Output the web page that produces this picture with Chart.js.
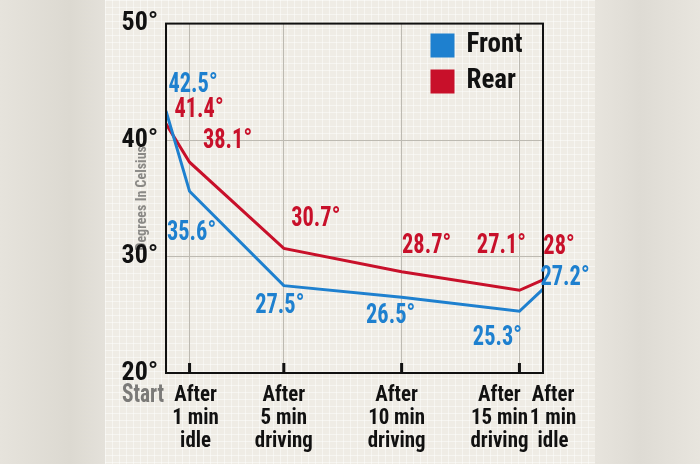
<!DOCTYPE html>
<html lang="en">
<head>
    <meta charset="UTF-8">
    <title>Tyre temperature</title>
    <style>
        body { margin: 0; width: 700px; height: 464px; overflow: hidden;
               background: linear-gradient(90deg, #e6e3dc 0, #dcd9d1 70px, #e4e1da 104px, #e7e4dd 596px, #dedbd4 640px, #e8e5de 700px); }
        .panel { position: absolute; left: 105px; top: 0; width: 490px; height: 464px;
                 background-color: #efece5;
                 background-image: linear-gradient(rgba(255,255,255,.45) 1px, transparent 1px),
                                   linear-gradient(90deg, rgba(255,255,255,.45) 1px, transparent 1px);
                 background-size: 7px 7px; }
        #chart { position: absolute; left: 0; top: 0; }
    </style>
</head>
<body>

<div class="panel"></div>
<canvas id="chart" width="700" height="464"></canvas>

<script src="https://cdn.jsdelivr.net/npm/chart.js@4.4.1/dist/chart.umd.min.js"></script>
<script>

    // minutes since start for each reading
    const minutes = [0, 1, 5, 10, 15, 16];
    const stageLabels = [
        ["Start"],
        ["After", "1 min", "idle"],
        ["After", "5 min", "driving"],
        ["After", "10 min", "driving"],
        ["After", "15 min", "driving"],
        ["After", "1 min", "idle"]
    ];
    const frontTemps = [42.5, 35.6, 27.5, 26.5, 25.3, 27.2];
    const rearTemps = [41.4, 38.1, 30.7, 28.7, 27.1, 28];
    const yTicks = [20, 30, 40, 50];

    const BLUE = "#1e80cf";
    const RED = "#c8102a";

    // where each value label sits relative to its point
    const labelShift = [
        [[27, -26], [2, 42], [-4, 20], [-11, 19], [-22, 27], [22, -11]],
        [[33, -14], [38, -21], [32, -29], [25, -26], [-18, -44], [16, -33]]
    ];
    // small nudges for the x captions
    const captionShift = [-23, 6, 0, -5, -20, 10];

    // find a narrow font that is really installed
    function pickFont() {
        const c = document.createElement("canvas").getContext("2d");
        const probe = "After 10 min driving 42.5";
        function w(f) { c.font = f; return c.measureText(probe).width; }
        const named = ["'Liberation Sans Narrow'", "'Roboto Condensed'", "'DejaVu Sans Condensed'", "'Open Sans Condensed'"];
        for (const fam of named) {
            if (w("bold 40px " + fam + ", monospace") !== w("bold 40px monospace")) {
                return {family: fam, weight: "bold", narrow: true};
            }
        }
        const stretchy = ["Roboto", "'Open Sans'", "'Noto Sans'", "Inter", "'DejaVu Sans'"];
        for (const fam of stretchy) {
            if (w("bold condensed 40px " + fam) < 0.92 * w("bold 40px " + fam)) {
                return {family: fam, weight: "bold condensed", narrow: true};
            }
        }
        return {family: "Roboto, sans-serif", weight: "bold", narrow: false};
    }
    const F = pickFont();

    // draw text pressed sideways a little, the print uses a very tight face
    function squeezedText(ctx, text, x, y, k) {
        ctx.save();
        ctx.translate(x, y);
        ctx.scale(k, 1);
        ctx.fillText(text, 0, 0);
        ctx.restore();
    }

    function toPoints(vals) {
        return vals.map(function (v, i) { return {x: minutes[i], y: v}; });
    }

    const decor = {
        id: "decor",
        afterLayout: function (chart) {
            // move the legend into the top right corner of the plot
            if (chart.legend) {
                chart.legend.left = 423;
                chart.legend.top = 23;
            }
        },
        afterDatasetsDraw: function (chart) {
            const ctx = chart.ctx;
            const area = chart.chartArea;
            const xs = chart.scales.x;

            ctx.save();
            // frame
            ctx.strokeStyle = "#111";
            ctx.lineWidth = 2;
            ctx.strokeRect(area.left, area.top, area.right - area.left, area.bottom - area.top);

            // short tick marks inside the bottom edge
            ctx.fillStyle = "#111";
            for (let i = 1; i < minutes.length - 1; i++) {
                let px = xs.getPixelForValue(minutes[i]);
                ctx.fillRect(px - 1.5, area.bottom - 10, 3, 10);
            }

            // value labels
            ctx.font = F.weight + " " + (F.narrow ? 28 : 29) + "px " + F.family;
            ctx.textAlign = "center";
            ctx.textBaseline = "middle";
            chart.data.datasets.forEach(function (ds, d) {
                let meta = chart.getDatasetMeta(d);
                ctx.fillStyle = ds.borderColor;
                meta.data.forEach(function (pt, i) {
                    let s = labelShift[d][i];
                    squeezedText(ctx, ds.data[i].y + "°", pt.x + s[0], pt.y + s[1], F.narrow ? 0.8 : 0.7);
                });
            });

            // x captions
            for (let i = 0; i < stageLabels.length; i++) {
                let px = xs.getPixelForValue(minutes[i]) + captionShift[i];
                if (i === 0) {
                    ctx.fillStyle = "#7b7a78";
                    ctx.font = F.weight + " 26px " + F.family;
                    squeezedText(ctx, stageLabels[i][0], px, area.bottom + 22, F.narrow ? 0.82 : 0.72);
                    continue;
                }
                ctx.fillStyle = "#111";
                ctx.font = F.weight + " 22px " + F.family;
                stageLabels[i].forEach(function (line, j) {
                    squeezedText(ctx, line, px, area.bottom + 22 + j * 23, F.narrow ? 0.95 : 0.76);
                });
            }
            ctx.restore();
        }
    };

    const small = F.narrow ? 1 : 0.85;

    new Chart(document.getElementById("chart"), {
        type: "line",
        data: {
            datasets: [{
                label: "Front",
                data: toPoints(frontTemps),
                borderColor: BLUE,
                backgroundColor: BLUE,
                borderWidth: 3,
                pointRadius: 0,
                tension: 0
            }, {
                label: "Rear",
                data: toPoints(rearTemps),
                borderColor: RED,
                backgroundColor: RED,
                borderWidth: 3,
                pointRadius: 0,
                tension: 0
            }]
        },
        options: {
            responsive: false,
            animation: false,
            layout: {padding: {left: 120, right: 157, top: 17, bottom: 0}},
            plugins: {
                tooltip: {enabled: false},
                legend: {
                    position: "chartArea",
                    align: "start",
                    labels: {
                        boxWidth: 21,
                        boxHeight: 21,
                        padding: 9,
                        color: "#111",
                        font: {family: F.family, size: Math.round(27 * small), weight: F.weight}
                    }
                }
            },
            scales: {
                x: {
                    type: "linear",
                    min: minutes[0],
                    max: minutes[minutes.length - 1],
                    afterBuildTicks: function (axis) {
                        axis.ticks = minutes.map(function (m) { return {value: m}; });
                    },
                    afterFit: function (axis) { axis.height = 91; },
                    ticks: {display: false},
                    border: {display: false},
                    grid: {
                        drawTicks: false,
                        lineWidth: 1,
                        color: function (c) {
                            let v = c.tick ? c.tick.value : null;
                            return (v === minutes[0] || v === minutes[minutes.length - 1]) ? "rgba(0,0,0,0)" : "#bdbab2";
                        }
                    }
                },
                y: {
                    min: yTicks[0],
                    max: yTicks[yTicks.length - 1],
                    afterBuildTicks: function (axis) {
                        axis.ticks = yTicks.map(function (v) { return {value: v}; });
                    },
                    afterFit: function (axis) { axis.width = 46; },
                    border: {display: false},
                    grid: {
                        drawTicks: false,
                        color: function (c) {
                            let v = c.tick ? c.tick.value : null;
                            return (v === yTicks[0] || v === yTicks[yTicks.length - 1]) ? "rgba(0,0,0,0)" : "#bdbab2";
                        }
                    },
                    ticks: {
                        padding: 8,
                        color: "#111",
                        font: {family: F.family, size: Math.round(26 * small), weight: F.weight},
                        callback: function (v) { return v + "°"; }
                    },
                    title: {
                        display: true,
                        text: "Degrees In Celsius",
                        color: "#8a8986",
                        padding: {top: 14, bottom: 0},
                        font: {family: F.family, size: 14, weight: F.weight}
                    }
                }
            }
        },
        plugins: [decor]
    });
</script>
</body>
</html>
